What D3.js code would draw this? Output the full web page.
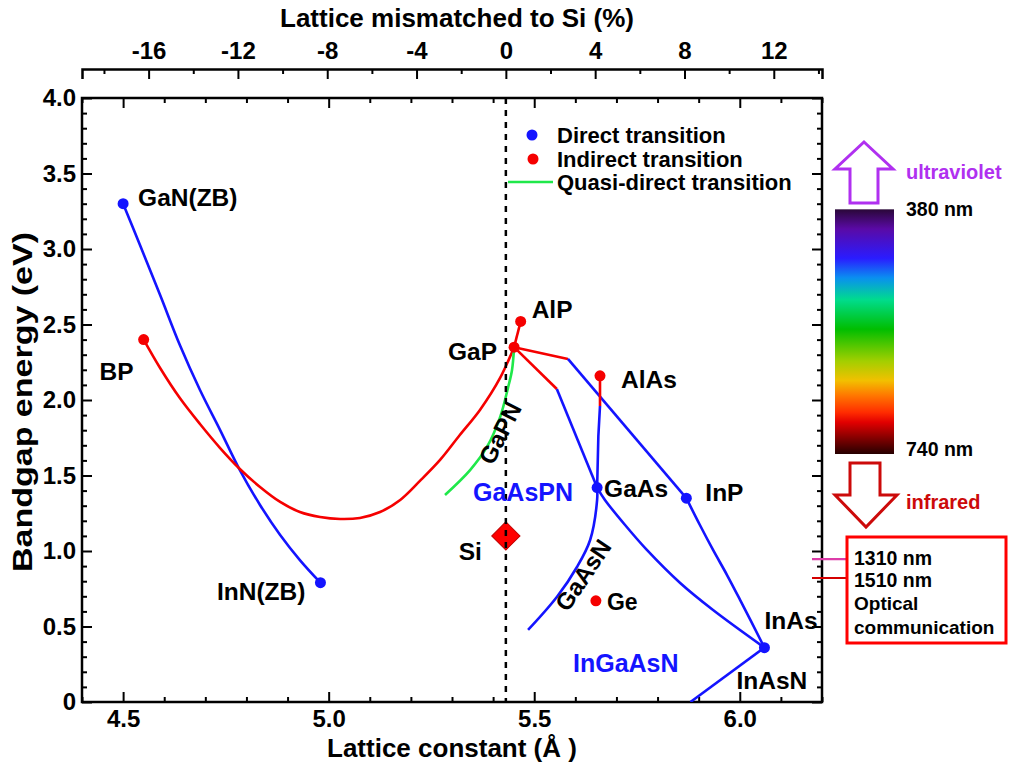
<!DOCTYPE html>
<html><head><meta charset="utf-8">
<script src="https://cdn.jsdelivr.net/npm/d3@7"></script>
<style>
html,body{margin:0;padding:0;background:#fff;}
svg{display:block;font-family:"Liberation Sans",Arial,Helvetica,sans-serif;font-weight:bold;}
</style></head><body>
<svg id="chart" width="1009" height="764"></svg>
<script>
// ---------- data ----------
// binary compounds: lattice constant (Å), bandgap (eV), transition type
const compounds   = ["GaN(ZB)", "BP", "InN(ZB)", "GaP", "AlP", "AlAs", "GaAs", "InP", "InAs", "Ge"];
const latticeA    = [4.50, 4.55, 4.98, 5.451, 5.467, 5.66, 5.653, 5.87, 6.06, 5.65];
const bandgapEV   = [3.30, 2.40, 0.79, 2.35, 2.52, 2.16, 1.42, 1.35, 0.36, 0.67];
const transition  = ["direct", "indirect", "direct", "indirect", "indirect", "indirect", "direct", "direct", "direct", "indirect"];

const siLattice = 5.431;
const siGap = 1.10;

// alloy curves as [lattice constant, bandgap] points
const inGaN      = [[4.50,3.30],[4.541,3.026],[4.590,2.695],[4.638,2.364],[4.687,2.066],[4.736,1.801],[4.784,1.536],[4.833,1.305],[4.882,1.106],[4.930,0.940],[4.98,0.79]];
const bGaPN      = [[4.55,2.40],[4.590,2.212],[4.638,2.013],[4.687,1.841],[4.736,1.682],[4.784,1.543],[4.833,1.424],[4.882,1.325],[4.930,1.258],[4.979,1.225],[5.028,1.212],[5.076,1.219],[5.125,1.258],[5.174,1.338],[5.222,1.464],[5.271,1.603],[5.319,1.768],[5.368,1.934],[5.417,2.146],[5.451,2.35]];
const gaPN       = [[5.451,2.35],[5.446,2.199],[5.436,2.079],[5.417,1.887],[5.385,1.689],[5.344,1.536],[5.283,1.371]];
const alGaP      = [[5.451,2.35],[5.467,2.52]];
const gaInPInd   = [[5.451,2.35],[5.582,2.272]];
const gaInPDir   = [[5.582,2.272],[5.87,1.35]];
const gaAsPInd   = [[5.451,2.35],[5.555,2.073]];
const gaAsPDir   = [[5.555,2.073],[5.653,1.42]];
const alGaAsInd  = [[5.66,2.16],[5.66,1.96]];
const alGaAsDir  = [[5.66,1.96],[5.656,1.76],[5.653,1.42]];
const inGaAs     = [[5.653,1.42],[5.672,1.338],[5.721,1.172],[5.774,1.007],[5.855,0.788],[5.935,0.609],[6.06,0.36]];
const inAsP      = [[5.87,1.35],[5.903,1.172],[5.935,1.007],[5.969,0.841],[6.001,0.675],[6.06,0.36]];
const gaAsN      = [[5.653,1.42],[5.653,1.338],[5.636,1.073],[5.604,0.894],[5.555,0.695],[5.485,0.477]];
const inAsN      = [[6.06,0.36],[5.88,0.0]];

// axis ticks
const latticeTicks  = [4.5, 5.0, 5.5, 6.0];
const latticeMinor  = d3.range(44, 63).map(v => v / 10).filter(v => !latticeTicks.some(t => Math.abs(t - v) < 1e-6));
const gapTicks      = [0, 0.5, 1.0, 1.5, 2.0, 2.5, 3.0, 3.5, 4.0];
const gapMinor      = d3.range(0, 41).map(v => v / 10).filter(v => !gapTicks.some(t => Math.abs(t - v) < 1e-6));
const mismatchTicks = [-16, -12, -8, -4, 0, 4, 8, 12];
const mismatchMinor = d3.range(-18, 15, 2).filter(v => !mismatchTicks.includes(v));

// visible spectrum and telecom wavelengths (nm)
const visibleRange  = [380, 740];
const telecomBands  = [1310, 1510];

// ---------- layout ----------
const svg = d3.select("#chart");
const L = 82, R = 822, T = 98, B = 702;
const x = d3.scaleLinear().domain([4.4, 6.2]).range([L, R]);
const y = d3.scaleLinear().domain([0, 4.0]).range([B, T]);
const mismatch = d3.scaleLinear()
  .domain(x.domain().map(a => (a / siLattice - 1) * 100))
  .range(x.range());
const nmToEV = nm => 1239.84 / nm;

const BLUE = "#1414ff", RED = "#f50000", GREEN = "#1fe84a", INK = "#000";
const TICK_FONT = 24, LABEL_FONT = 24.5;

function styleAxis(g) {
  g.attr("font-family", null).attr("font-size", null);
  g.selectAll(".tick line").attr("stroke", INK).attr("stroke-width", 2);
  g.selectAll(".tick text").attr("fill", INK).style("font-size", TICK_FONT + "px").style("font-weight", "bold");
}

// bottom axis
const gB = svg.append("g").attr("transform", `translate(0,${B})`)
  .call(d3.axisBottom(x).tickValues(latticeTicks).tickSize(-10).tickPadding(8).tickFormat(d3.format(".1f")));
gB.select(".domain").remove(); styleAxis(gB);
const gBm = svg.append("g").attr("transform", `translate(0,${B})`)
  .call(d3.axisBottom(x).tickValues(latticeMinor).tickSize(-5).tickFormat(""));
gBm.select(".domain").remove(); styleAxis(gBm);

// top frame mirror ticks
const gT = svg.append("g").attr("transform", `translate(0,${T})`)
  .call(d3.axisTop(x).tickValues(latticeTicks).tickSize(-10).tickFormat(""));
gT.select(".domain").remove(); styleAxis(gT);
const gTm = svg.append("g").attr("transform", `translate(0,${T})`)
  .call(d3.axisTop(x).tickValues(latticeMinor).tickSize(-5).tickFormat(""));
gTm.select(".domain").remove(); styleAxis(gTm);

// left axis
const gL = svg.append("g").attr("transform", `translate(${L},0)`)
  .call(d3.axisLeft(y).tickValues(gapTicks).tickSize(-10).tickPadding(6).tickFormat(d => d === 0 ? "0" : d3.format(".1f")(d)));
gL.select(".domain").remove(); styleAxis(gL);
const gLm = svg.append("g").attr("transform", `translate(${L},0)`)
  .call(d3.axisLeft(y).tickValues(gapMinor).tickSize(-5).tickFormat(""));
gLm.select(".domain").remove(); styleAxis(gLm);

// right frame mirror ticks
const gR = svg.append("g").attr("transform", `translate(${R},0)`)
  .call(d3.axisRight(y).tickValues(gapTicks).tickSize(-10).tickFormat(""));
gR.select(".domain").remove(); styleAxis(gR);
const gRm = svg.append("g").attr("transform", `translate(${R},0)`)
  .call(d3.axisRight(y).tickValues(gapMinor).tickSize(-5).tickFormat(""));
gRm.select(".domain").remove(); styleAxis(gRm);

// top axis: lattice mismatch to Si
const TOPY = 69;
const gM = svg.append("g").attr("transform", `translate(0,${TOPY})`)
  .call(d3.axisTop(mismatch).tickValues(mismatchTicks).tickSize(-10).tickSizeOuter(-10).tickPadding(10).tickFormat(d3.format("d")));
gM.select(".domain").attr("stroke", INK).attr("stroke-width", 2.5).attr("fill", "none");
styleAxis(gM);
gM.selectAll(".tick text").text(d => d < 0 ? "-" + Math.abs(d) : String(d));
const gMm = svg.append("g").attr("transform", `translate(0,${TOPY})`)
  .call(d3.axisTop(mismatch).tickValues(mismatchMinor).tickSize(-5).tickFormat(""));
gMm.select(".domain").remove(); styleAxis(gMm);

// plot frame
svg.append("rect").attr("x", L).attr("y", T).attr("width", R - L).attr("height", B - T)
  .attr("fill", "none").attr("stroke", INK).attr("stroke-width", 2.5);

// axis titles
svg.append("text").attr("x", 457).attr("y", 27).attr("text-anchor", "middle")
  .style("font-size", "26px").text("Lattice mismatched to Si (%)");
svg.append("text").attr("x", (L + R) / 2).attr("y", 757).attr("text-anchor", "middle")
  .style("font-size", "26px").text("Lattice constant (Å )");
svg.append("text").attr("transform", `translate(32,${(T + B) / 2 + 2}) rotate(-90)`).attr("text-anchor", "middle")
  .attr("textLength", 340).attr("lengthAdjust", "spacingAndGlyphs")
  .style("font-size", "27px").text("Bandgap energy (eV)");

// ---------- curves ----------
svg.append("clipPath").attr("id", "plotClip").append("rect")
  .attr("x", L).attr("y", T).attr("width", R - L).attr("height", B - T);
const plot = svg.append("g").attr("clip-path", "url(#plotClip)");

const smooth = d3.line().x(d => x(d[0])).y(d => y(d[1])).curve(d3.curveCatmullRom.alpha(0.5));
const straight = d3.line().x(d => x(d[0])).y(d => y(d[1]));

const curves = [
  [inGaN, BLUE, smooth], [bGaPN, RED, smooth], [gaPN, GREEN, smooth],
  [alGaP, RED, straight], [gaInPInd, RED, straight], [gaInPDir, BLUE, straight],
  [gaAsPInd, RED, straight], [gaAsPDir, BLUE, straight],
  [alGaAsInd, RED, straight], [alGaAsDir, BLUE, straight],
  [inGaAs, BLUE, smooth], [inAsP, BLUE, smooth], [gaAsN, BLUE, smooth], [inAsN, BLUE, straight]
];
curves.forEach(([pts, col, gen]) => {
  plot.append("path").attr("d", gen(pts)).attr("fill", "none")
    .attr("stroke", col).attr("stroke-width", 2.6).attr("stroke-linejoin", "round");
});

// Si marker and the Si lattice line
plot.append("path").attr("d", d3.symbol(d3.symbolSquare, 400)())
  .attr("transform", `translate(${x(siLattice)},${y(siGap)}) rotate(45)`)
  .attr("fill", "#ff0000").attr("stroke", "#c00000").attr("stroke-width", 1);
plot.append("line").attr("x1", x(siLattice)).attr("x2", x(siLattice)).attr("y1", T).attr("y2", B)
  .attr("stroke", INK).attr("stroke-width", 2.5).attr("stroke-dasharray", "6,6");

// compound points
plot.selectAll("circle.pt").data(compounds).join("circle").attr("class", "pt")
  .attr("cx", (d, i) => x(latticeA[i])).attr("cy", (d, i) => y(bandgapEV[i]))
  .attr("r", 5.5).attr("fill", (d, i) => transition[i] === "direct" ? BLUE : RED);

// compound labels: [dx, dy, anchor]
const labelPlace = {
  "GaN(ZB)": [15, 2, "start"], "BP": [-10, 40, "end"], "InN(ZB)": [-15, 17, "end"],
  "GaP": [-17, 13, "end"], "AlP": [11, -3, "start"], "AlAs": [21, 12, "start"],
  "GaAs": [7, 9, "start"], "InP": [19, 3, "start"], "InAs": [0, -19, "start"], "Ge": [11, 9, "start"]
};
compounds.forEach((c, i) => {
  const [dx, dy, anc] = labelPlace[c];
  svg.append("text").attr("x", x(latticeA[i]) + dx).attr("y", y(bandgapEV[i]) + dy)
    .attr("text-anchor", anc).style("font-size", (c === "Ge" ? 23 : LABEL_FONT) + "px").text(c);
});
svg.append("text").attr("x", x(siLattice) - 24).attr("y", y(siGap) + 24).attr("text-anchor", "end")
  .style("font-size", LABEL_FONT + "px").text("Si");
svg.append("text").attr("x", x(6.06) - 28).attr("y", y(0.36) + 41).style("font-size", LABEL_FONT + "px").text("InAsN");

// alloy region labels
svg.append("text").attr("x", 473).attr("y", 501).attr("fill", BLUE).style("font-size", "25px").text("GaAsPN");
svg.append("text").attr("x", 573).attr("y", 672).attr("fill", BLUE).style("font-size", "25px").text("InGaAsN");
svg.append("text").attr("transform", `translate(${x(5.417)},${y(1.78)}) rotate(-63)`).attr("text-anchor", "middle")
  .attr("dy", "0.35em").style("font-size", "24px").text("GaPN");
svg.append("text").attr("transform", `translate(${x(5.619)},${y(0.84)}) rotate(-56)`).attr("text-anchor", "middle")
  .attr("dy", "0.35em").style("font-size", "24px").text("GaAsN");

// legend
const lg = svg.append("g");
lg.append("circle").attr("cx", 532).attr("cy", 135).attr("r", 5.5).attr("fill", BLUE);
lg.append("text").attr("x", 557).attr("y", 143).style("font-size", "22px").text("Direct transition");
lg.append("circle").attr("cx", 533).attr("cy", 159).attr("r", 5.5).attr("fill", RED);
lg.append("text").attr("x", 557).attr("y", 167).style("font-size", "22px").text("Indirect transition");
lg.append("line").attr("x1", 508).attr("x2", 553).attr("y1", 182).attr("y2", 182).attr("stroke", GREEN).attr("stroke-width", 2.6);
lg.append("text").attr("x", 557).attr("y", 190).style("font-size", "22px").text("Quasi-direct transition");

// ---------- visible spectrum bar ----------
const barX = 835, barW = 59;
const barTop = y(nmToEV(visibleRange[0])), barBot = y(nmToEV(visibleRange[1])) + 5;
const grad = svg.append("defs").append("linearGradient").attr("id", "spectrum")
  .attr("x1", 0).attr("y1", 0).attr("x2", 0).attr("y2", 1);
[[0, "#2a0838"], [0.08, "#5a0aa6"], [0.2, "#2a1cff"], [0.28, "#0a8ff0"], [0.37, "#00dc8c"],
 [0.49, "#00be00"], [0.62, "#a2cf00"], [0.70, "#f2c000"], [0.76, "#ff7800"], [0.83, "#ff2c00"],
 [0.87, "#e20000"], [0.94, "#7c0000"], [1, "#260000"]].forEach(([o, c]) =>
  grad.append("stop").attr("offset", o).attr("stop-color", c));
svg.append("rect").attr("x", barX).attr("y", barTop).attr("width", barW).attr("height", barBot - barTop)
  .attr("fill", "url(#spectrum)");
svg.append("text").attr("x", 906).attr("y", y(nmToEV(visibleRange[0]))).attr("dy", "0.36em")
  .style("font-size", "19.5px").text(visibleRange[0] + " nm");
svg.append("text").attr("x", 906).attr("y", y(nmToEV(visibleRange[1]))).attr("dy", "0.36em")
  .style("font-size", "19.5px").text(visibleRange[1] + " nm");

// ultraviolet / infrared arrows
const UV = "#b030f0", IR = "#cc0a0a";
svg.append("path").attr("d", "M864,142 L893,169 L878,169 L878,203 L850,203 L850,169 L835,169 Z")
  .attr("fill", "#fff").attr("stroke", UV).attr("stroke-width", 3).attr("stroke-linejoin", "miter");
svg.append("text").attr("x", 906).attr("y", 172).attr("dy", "0.36em").attr("fill", UV)
  .style("font-size", "20px").text("ultraviolet");
svg.append("path").attr("d", "M850,463 L880,463 L880,495 L897,495 L866,527 L835,495 L850,495 Z")
  .attr("fill", "#fff").attr("stroke", IR).attr("stroke-width", 3).attr("stroke-linejoin", "miter");
svg.append("text").attr("x", 906).attr("y", 502).attr("dy", "0.36em").attr("fill", IR)
  .style("font-size", "20px").text("infrared");

// ---------- optical communication box ----------
const bandColors = ["#dc3ca8", "#d40000"];
telecomBands.forEach((nm, i) => {
  svg.append("line").attr("x1", 812).attr("x2", 847).attr("y1", y(nmToEV(nm))).attr("y2", y(nmToEV(nm)))
    .attr("stroke", bandColors[i]).attr("stroke-width", 2.2);
  svg.append("text").attr("x", 854).attr("y", y(nmToEV(nm)) + (i === 0 ? -1 : 2)).attr("dy", "0.36em")
    .style("font-size", "19.5px").text(nm + " nm");
});
svg.append("rect").attr("x", 847).attr("y", 537).attr("width", 159).attr("height", 106)
  .attr("fill", "none").attr("stroke", "#ff0000").attr("stroke-width", 3);
svg.append("text").attr("x", 854).attr("y", 610).style("font-size", "19px").text("Optical");
svg.append("text").attr("x", 854).attr("y", 634).style("font-size", "19px").text("communication");
</script>
</body></html>
